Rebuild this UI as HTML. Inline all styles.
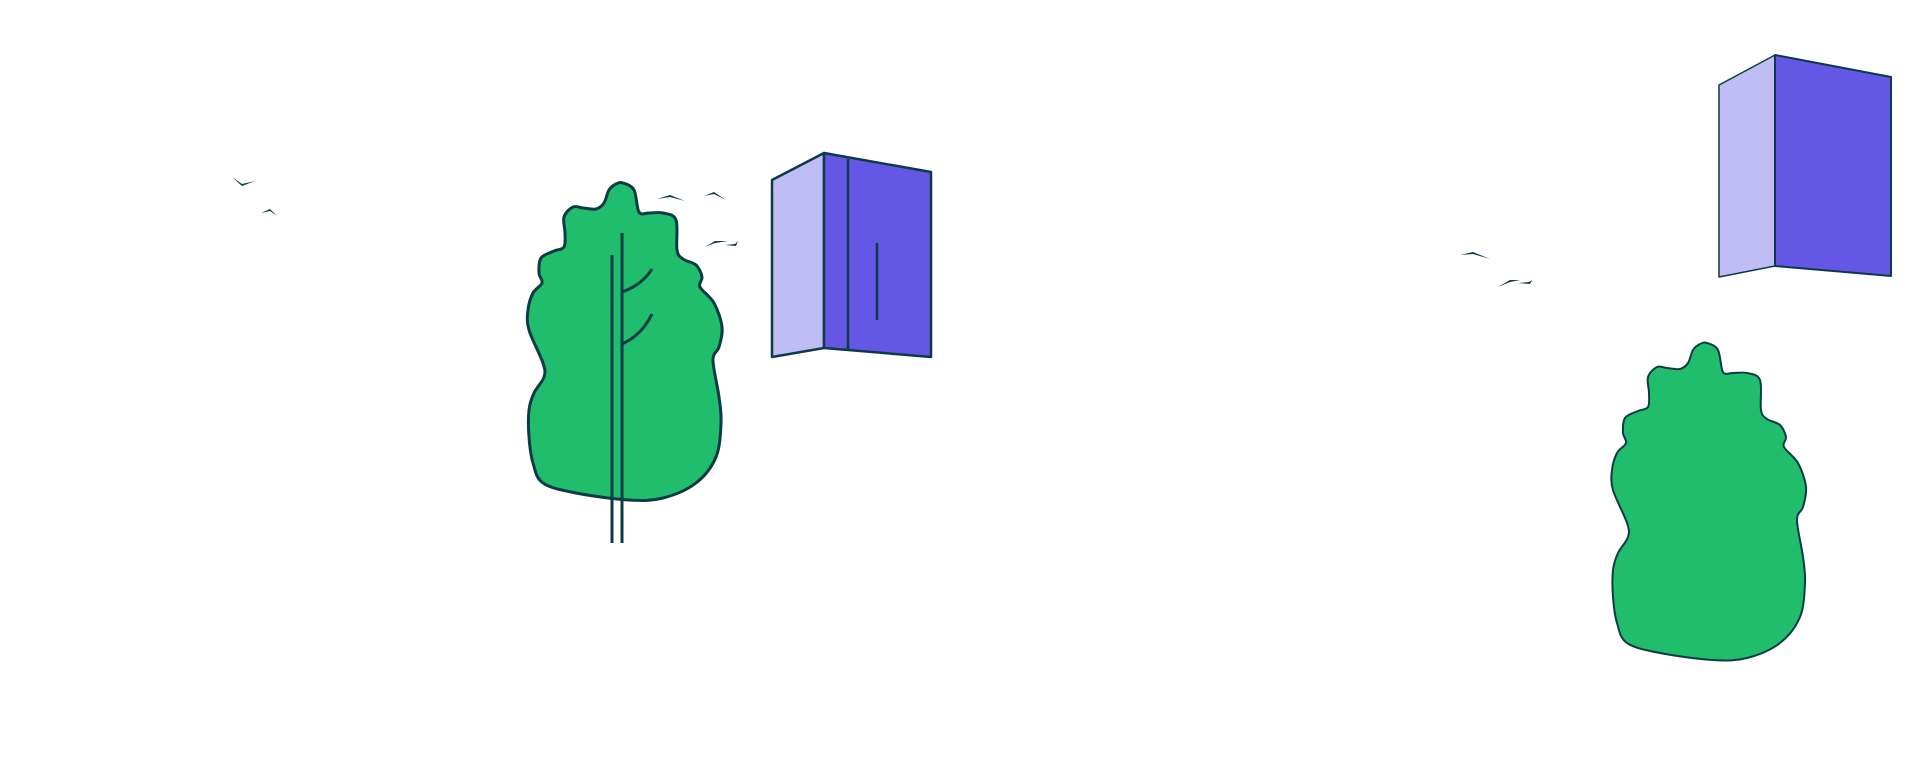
<!DOCTYPE html>
<html><head><meta charset="utf-8"><style>
html,body{margin:0;padding:0;background:#fff;width:1920px;height:767px;overflow:hidden}
svg{display:block}
</style></head><body>
<svg id="s" width="1920" height="767" viewBox="0 0 1920 767" xmlns="http://www.w3.org/2000/svg">
<g stroke="#0c3b45" stroke-linejoin="round">
<polygon points="772,180 824,153 824,348 772,357" fill="#c0bdf5" stroke-width="2.5"/>
<polygon points="824,153 931,172 931,357 824,348" fill="#6457e5" stroke-width="2.5"/>
<line x1="848" y1="159" x2="848" y2="350" stroke-width="2.5"/>
<line x1="877" y1="243" x2="877" y2="320" stroke-width="2.5"/>
<polygon points="1719,85 1775,55 1775,266 1719,277" fill="#c0bdf5" stroke-width="1.5"/>
<polygon points="1775,55 1891,77 1891,276 1775,266" fill="#6457e5" stroke-width="2"/>
<path id="t1" fill="#1fbd6c" stroke-width="3"/>
<path id="t2" fill="#1fbd6c" stroke-width="2"/>
<line x1="612" y1="255" x2="612" y2="543" stroke-width="3"/>
<line x1="622" y1="233" x2="622" y2="543" stroke-width="3"/>
<path d="M622,292 Q642,285 652,269" fill="none" stroke-width="3"/>
<path d="M622,344 Q642,335 652,314" fill="none" stroke-width="3"/>
</g>
<g fill="#0c3b45">
<polygon points="232,177 242,186 255,181 242,184"/>
<polygon points="261,213 270,209 277,216 270,211"/>
<polygon points="657,199 670,195 685,201 670,197"/>
<polygon points="704,196 714,192 726,200 714,194"/>
<polygon points="705,247 715,241 728,241 715,243"/>
<polygon points="725,245 736,246 738,241 735,244"/>
<polygon points="1460,255 1473,252 1490,259 1473,254"/>
<polygon points="1498,287 1510,280 1520,280 1510,282"/>
<polygon points="1518,283 1530,284 1532,280 1529,282"/>
</g>
</svg>
<script>
function cr(p,dx,dy){var n=p.length,f=function(q){return (q[0]+dx)+","+(q[1]+dy)};var d="M"+f(p[0]);
for(var i=0;i<n;i++){var p0=p[(i-1+n)%n],p1=p[i],p2=p[(i+1)%n],p3=p[(i+2)%n];
d+=" C"+f([p1[0]+(p2[0]-p0[0])/6,p1[1]+(p2[1]-p0[1])/6])+" "+f([p2[0]-(p3[0]-p1[0])/6,p2[1]-(p3[1]-p1[1])/6])+" "+f(p2);}
return d+"Z";}
var b=[[1707,343],[1718,350],[1723,372],[1733,373],[1747,373],[1760,380],[1761,410],[1767,419],[1780,425],[1786,437],[1784,447],[1798,463],[1806,487],[1803,507],[1797,520],[1803,557],[1805,583],[1800,617],[1780,643],[1747,658],[1713,660],[1660,653],[1627,643],[1617,623],[1613,597],[1613,570],[1618,553],[1628,537],[1627,523],[1613,490],[1612,470],[1617,453],[1626,443],[1623,433],[1625,418],[1638,411],[1648,407],[1649,393],[1648,377],[1657,367],[1667,368],[1680,369],[1688,363],[1693,350],[1700,344]];
document.getElementById("t1").setAttribute("d",cr(b,-1084,-160));
document.getElementById("t2").setAttribute("d",cr(b,0,0));
</script>
</body></html>
